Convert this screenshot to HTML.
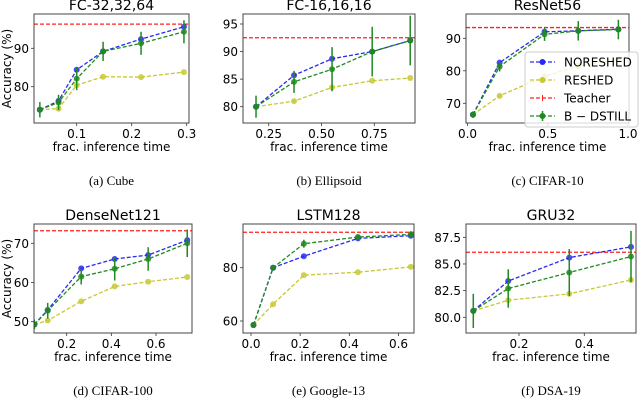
<!DOCTYPE html>
<html><head><meta charset="utf-8">
<style>
html,body{margin:0;padding:0;background:#fff;}
svg{display:block;font-family:"DejaVu Sans","Liberation Sans",sans-serif;}
.cap{font-family:"Liberation Serif",serif;font-size:13px;}
</style></head>
<body>
<svg id="fig" width="640" height="403" viewBox="0 0 640 403"></svg>
<script>
// ---- data (each panel) ----
const aX=[0.033,0.067,0.1,0.148,0.217,0.295];
const aNor=[74,76.3,84.4,89.2,92.4,95.6];
const aRes=[74,74.3,80.4,82.6,82.5,83.8];
const aBd=[74,75.9,82.1,89.2,91.3,94.3];
const aErr=[2,2,3,2.5,3,3];
const aTeacher=96.3;
const aXTicks=[0.1,0.2,0.3];
const aYTicks=[80,90];

const bX=[0.19,0.37,0.55,0.74,0.92];
const bNor=[80,85.7,88.7,90,92];
const bRes=[80,81,83.5,84.7,85.2];
const bBd=[80,84.5,86.8,90,92];
const bErr=[2,2,4,4.5,4.5];
const bTeacher=92.5;
const bXTicks=[0.25,0.5,0.75];
const bYTicks=[80,85,90,95];

const cX=[0.034,0.2,0.48,0.69,0.94];
const cNor=[66.5,82.5,92,92.3,92.8];
const cRes=[66.5,72.3,78.3,81.5,83.5];
const cBd=[66.5,81.3,91.2,92.3,92.7];
const cErr=[1,1.5,2,3,3];
const cTeacher=93.3;
const cXTicks=[0,0.5,1.0];
const cYTicks=[70,80,90];

const dX=[0.055,0.115,0.265,0.415,0.565,0.74];
const dNor=[49.3,53,63.6,66,67,70.8];
const dRes=[49.3,50.3,55.2,59,60.2,61.4];
const dBd=[49.3,52.8,61.5,63.5,66,70];
const dErr=[1.2,2,2,3,3,3.5];
const dTeacher=73.2;
const dXTicks=[0.2,0.4,0.6];
const dYTicks=[50,60,70];

const eX=[0.01,0.09,0.215,0.435,0.65];
const eNor=[58.5,80,84.3,91,92];
const eRes=[58.5,66.3,77.2,78.3,80.3];
const eBd=[58.5,80,89,91.5,92.5];
const eErr=[0.5,0.5,1.5,1,1.2];
const eTeacher=93.3;
const eXTicks=[0,0.2,0.4,0.6];
const eYTicks=[60,80];

const fX=[0.06,0.167,0.354,0.543];
const fNor=[80.6,83.4,85.6,86.6];
const fRes=[80.6,81.6,82.2,83.5];
const fBd=[80.6,82.7,84.2,85.7];
const fErr=[1.6,1.8,2.2,2.4];
const fTeacher=86.1;
const fXTicks=[0.2,0.4];
const fYTicks=[80.0,82.5,85.0,87.5];

const NS="http://www.w3.org/2000/svg";
const svg=document.getElementById('fig');
function mk(tag,attrs,parent){const e=document.createElementNS(NS,tag);for(const k in attrs)e.setAttribute(k,attrs[k]);(parent||svg).appendChild(e);return e;}
const BLUE="#2929f5",YEL="#c8c832",GRN="#1f8a1f",RED="#ff2020";

function panel(id,title,caption,box,xm,ym,X,nor,res,bd,err,teacher,xt,yt,ydec,xdec,ylab){
  const g=mk('g',{});
  
  
  const sx=v=>xm[1]+(v-xm[0])*(xm[3]-xm[1])/(xm[2]-xm[0]);
  const sy=v=>ym[1]+(v-ym[0])*(ym[3]-ym[1])/(ym[2]-ym[0]);
  const cp=mk('clipPath',{id:'cp'+id},g);
  mk('rect',{x:box[0],y:box[1],width:box[2]-box[0],height:box[3]-box[1]},cp);
  // title
  const t=mk('text',{x:(box[0]+box[2])/2,y:box[1]-4,'text-anchor':'middle','font-size':'14'},g);
  t.textContent=title;
  
  
  // ticks
  xt.forEach(v=>{
    const x=sx(v);
    mk('line',{x1:x,x2:x,y1:box[3],y2:box[3]+3,stroke:'#333','stroke-width':0.8},g);
    const tx=mk('text',{x:x,y:box[3]+15,'text-anchor':'middle','font-size':'12'},g);
    tx.textContent=v.toFixed(xdec);
    
    
  });
  yt.forEach(v=>{
    const y=sy(v);
    mk('line',{x1:box[0]-3,x2:box[0],y1:y,y2:y,stroke:'#333','stroke-width':0.8},g);
    const ty=mk('text',{x:box[0]-5,y:y+4.5,'text-anchor':'end','font-size':'12'},g);
    ty.textContent=v.toFixed(ydec);
    
    
  });
  const xl=mk('text',{x:(box[0]+box[2])/2,y:box[3]+28,'text-anchor':'middle','font-size':'12'},g);
  xl.textContent='frac. inference time';
  
  
  if(ylab){
    const cy=(box[1]+box[3])/2;
    const yl=mk('text',{x:11,y:cy,'text-anchor':'middle','font-size':'12',transform:`rotate(-90 11 ${cy})`},g);
    yl.textContent='Accuracy (%)';
    
    
  }
  const cap=mk('text',{x:(box[0]+box[2])/2,y:box[3]+62,'text-anchor':'middle',class:'cap'},g);
  cap.textContent=caption;
  
  
  const pg=mk('g',{'clip-path':`url(#cp${id})`},g);
  // teacher
  const tl=mk('line',{x1:box[0],x2:box[2],y1:sy(teacher),y2:sy(teacher),stroke:RED,'stroke-width':1.3,'stroke-dasharray':'4,2'},pg);
  
  
  function series(vals,col,name,e){
    const pts=X.map((x,i)=>sx(x)+','+sy(vals[i])).join(' ');
    const pl=mk('polyline',{points:pts,fill:'none',stroke:col,'stroke-width':1.3,'stroke-dasharray':'4,2'},pg);
    
    
    X.forEach((x,i)=>{
      if(e){
        const eb=mk('line',{x1:sx(x),x2:sx(x),y1:sy(vals[i]-e[i]),y2:sy(vals[i]+e[i]),stroke:col,'stroke-width':1.5},pg);
        
        
      }
      const c=mk('circle',{cx:sx(x),cy:sy(vals[i]),r:3,fill:col,'fill-opacity':0.85},pg);
      
      
    });
  }
  series(res,YEL,'reshed');
  series(nor,BLUE,'noreshed');
  series(bd,GRN,'b-dstill',err);
  const fr=mk('rect',{x:box[0],y:box[1],width:box[2]-box[0],height:box[3]-box[1],fill:'none',stroke:'#444','stroke-width':1},g);
  
  
}
panel('a','FC-32,32,64','(a) Cube',[34,14,189,123],[0.1,76.7,0.3,186.7],[80,86.7,90,48.3],aX,aNor,aRes,aBd,aErr,aTeacher,aXTicks,aYTicks,0,1,true);
panel('b','FC-16,16,16','(b) Ellipsoid',[243,14,415,123],[0.25,268.7,0.75,374.3],[80,106.7,95,24],bX,bNor,bRes,bBd,bErr,bTeacher,bXTicks,bYTicks,0,2,false);
panel('c','ResNet56','(c) CIFAR-10',[466,14,629,123],[0,467.5,1,628],[70,103.3,90,38.3],cX,cNor,cRes,cBd,cErr,cTeacher,cXTicks,cYTicks,0,1,false);
panel('d','DenseNet121','(d) CIFAR-100',[34,224,192,333],[0.2,66.7,0.6,156],[50,321.7,70,243.3],dX,dNor,dRes,dBd,dErr,dTeacher,dXTicks,dYTicks,0,1,true);
panel('e','LSTM128','(e) Google-13',[243,224,414,333],[0,251,0.6,398.5],[60,321,80,267.7],eX,eNor,eRes,eBd,eErr,eTeacher,eXTicks,eYTicks,0,1,false);
panel('f','GRU32','(f) DSA-19',[466,224,636,333],[0.2,519,0.4,584.3],[80,317.3,87.5,237.3],fX,fNor,fRes,fBd,fErr,fTeacher,fXTicks,fYTicks,1,1,false);

// legend
const lg=mk('g',{});


mk('rect',{x:525,y:52,width:113,height:75,rx:3,fill:'#fff','fill-opacity':0.8,stroke:'#ccc','stroke-width':1},lg);
const legNames=['NORESHED','RESHED','Teacher','B \u2212 DSTILL'];
const legCols=[BLUE,YEL,RED,GRN];
legNames.forEach((n,i)=>{
  const y=62+i*18;
  const e=mk('g',{},lg);
  
  
  mk('line',{x1:530,x2:555,y1:y,y2:y,stroke:legCols[i],'stroke-width':1.3,'stroke-dasharray':'4,2'},e);
  if(i==2) mk('line',{x1:542.5,x2:542.5,y1:y-3,y2:y+3,stroke:RED,'stroke-width':1},e);
  else mk('circle',{cx:542.5,cy:y,r:3,fill:legCols[i]},e);
  if(i==3) mk('line',{x1:542.5,x2:542.5,y1:y-5,y2:y+5,stroke:GRN,'stroke-width':1.5},e);
  const t=mk('text',{x:564,y:y+4.5,'font-size':'12'},e);
  t.textContent=n;
});
</script>
</body></html>
